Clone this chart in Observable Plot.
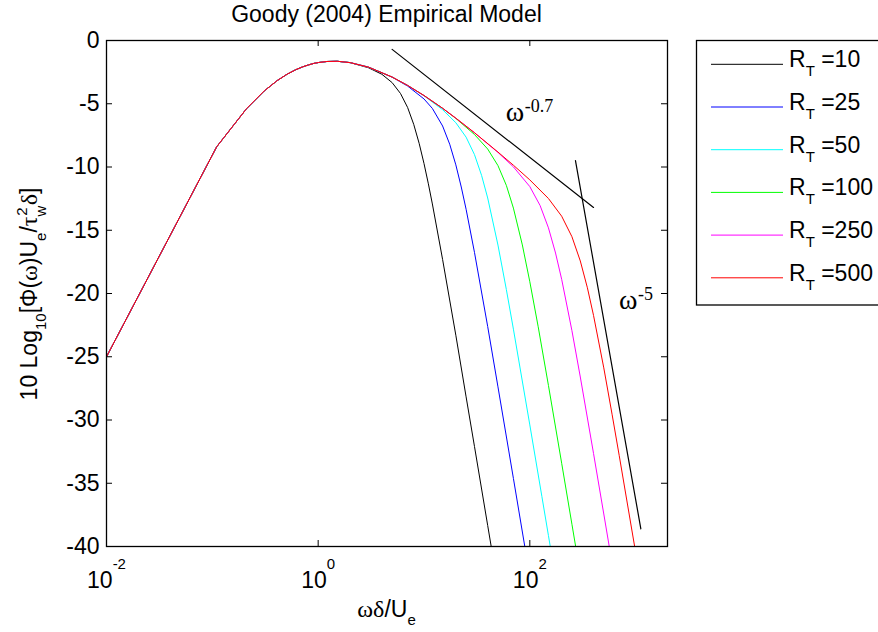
<!DOCTYPE html>
<html><head><meta charset="utf-8">
<script src="https://cdn.jsdelivr.net/npm/d3@7"></script>
<script src="https://cdn.jsdelivr.net/npm/@observablehq/plot@0.6"></script>
<style>body{margin:0;background:#fff;} #chart{position:relative;width:878px;height:632px;overflow:hidden;}</style>
</head><body><div id="chart"></div>
<script>
// shared low-frequency part of every curve
const commonX = [0.01, 0.11, 0.21, 0.31, 0.41, 0.51, 0.61, 0.71, 0.81, 0.91, 1.01, 1.21, 1.51, 2.01];
const commonY = [-25.0, -8.4, -5.4, -3.98, -3.17, -2.66, -2.32, -2.09, -1.93, -1.81, -1.74, -1.66, -1.64, -1.75];
// per-series tails
const rt10X = [3, 4, 5, 6, 7, 8, 9, 10, 11, 12, 15, 20, 25, 30, 40, 45];
const rt10Y = [-2.16, -2.67, -3.33, -4.19, -5.29, -6.63, -8.13, -9.72, -11.33, -12.92, -17.32, -23.30, -28.17, -32.09, -38.34, -40.9];
const rt25X = [3, 5, 7, 10, 12, 15, 17.5, 20, 22.5, 25, 30, 40, 50, 70, 90, 100];
const rt25Y = [-2.11, -2.90, -3.60, -4.62, -5.37, -6.76, -8.20, -9.83, -11.58, -13.34, -16.75, -22.61, -27.38, -34.62, -40.08, -42.37];
const rt50X = [3, 5, 7, 10, 15, 20, 25, 30, 35, 40, 50, 60, 70, 100, 130, 150, 170];
const rt50Y = [-2.11, -2.89, -3.55, -4.37, -5.47, -6.50, -7.64, -9.02, -10.66, -12.45, -16.17, -19.68, -22.82, -30.39, -36.04, -39.14, -41.86];
const rt100X = [3, 5, 7, 10, 15, 20, 30, 40, 50, 60, 70, 85, 100, 120, 150, 200, 250, 300];
const rt100Y = [-2.11, -2.89, -3.55, -4.35, -5.36, -6.16, -7.43, -8.58, -9.89, -11.45, -13.25, -16.16, -19.07, -22.63, -27.27, -33.42, -38.24, -42.19];
const rt250X = [3, 5, 7, 10, 15, 20, 30, 50, 70, 100, 125, 150, 175, 200, 250, 300, 400, 500, 600];
const rt250Y = [-2.11, -2.89, -3.55, -4.35, -5.36, -6.14, -7.29, -8.85, -9.99, -11.55, -13.04, -14.81, -16.80, -18.88, -22.94, -26.60, -32.64, -37.43, -41.37];
const rt500X = [3, 5, 7, 10, 15, 20, 30, 50, 70, 100, 150, 200, 250, 300, 350, 400, 500, 600, 700, 1000, 1200];
const rt500Y = [-2.11, -2.89, -3.55, -4.35, -5.36, -6.14, -7.29, -8.82, -9.86, -11.02, -12.49, -13.89, -15.51, -17.43, -19.55, -21.73, -25.88, -29.59, -32.82, -40.47, -44.4];

const seriesLabels = ["10", "25", "50", "100", "250", "500"];
const seriesColors = ["#000000", "#0000ff", "#00ffff", "#00ff00", "#ff00ff", "#ff0000"];
const seriesX = [rt10X, rt25X, rt50X, rt100X, rt250X, rt500X];
const seriesY = [rt10Y, rt25Y, rt50Y, rt100Y, rt250Y, rt500Y];

const xTicks = [0.01, 1, 100];
const yTicks = [-40, -35, -30, -25, -20, -15, -10, -5, 0];

// reference slope lines and their labels
const slope07X = [5, 400], slope07Y = [-0.7, -13.2];
const slope5X = [270, 1120], slope5Y = [-9.5, -38.6];
const annotBase = ["ω", "ω"], annotExp = ["-0.7", "-5"];
const annotX = [59.3, 697], annotY = [-5.69, -20.55];

const titleText = "Goody (2004) Empirical Model";

const rows = [];
seriesLabels.forEach((lab, i) => {
  const xs = commonX.concat(seriesX[i]);
  const ys = commonY.concat(seriesY[i]);
  xs.forEach((x, j) => rows.push({series: lab, x, y: ys[j]}));
});
const s07 = slope07X.map((x, i) => ({x, y: slope07Y[i]}));
const s5 = slope5X.map((x, i) => ({x, y: slope5Y[i]}));
const annots = annotBase.map((t, i) => ({t, e: annotExp[i], x: annotX[i], y: annotY[i]}));

const SANS = "'Liberation Sans', Arial, sans-serif";
const SERIF = "'Liberation Serif', 'Times New Roman', serif";
const W = 878, H = 632, ML = 106, MR = 211, MT = 40, MB = 86;
const frameW = W - ML - MR, frameH = H - MT - MB, TICK = 6;

const svgNode = Plot.plot({
  width: W, height: H,
  marginLeft: ML, marginRight: MR, marginTop: MT, marginBottom: MB,
  style: {fontFamily: SANS, fontSize: "23px", background: "white", color: "black"},
  x: {type: "log", domain: [0.01, 2000]},
  y: {domain: [-40, 0]},
  color: {domain: seriesLabels, range: seriesColors},
  marks: [
    Plot.line(rows, {x: "x", y: "y", z: "series", stroke: "series", strokeWidth: 1, clip: true}),
    Plot.line(s07, {x: "x", y: "y", stroke: "black", strokeWidth: 1.2}),
    Plot.line(s5, {x: "x", y: "y", stroke: "black", strokeWidth: 1.2}),
    Plot.text(annots, {x: "x", y: "y", text: "t", textAnchor: "start", fontFamily: SERIF, fontSize: 28, fill: "black"}),
    Plot.text(annots, {x: "x", y: "y", text: "e", textAnchor: "start", fontFamily: SERIF, fontSize: 18, dx: 19, dy: -6, fill: "black"}),
    Plot.tickX(xTicks, {x: d => d, insetTop: frameH - TICK, stroke: "black", strokeWidth: 1}),
    Plot.tickX(xTicks, {x: d => d, insetBottom: frameH - TICK, stroke: "black", strokeWidth: 1}),
    Plot.tickY(yTicks, {y: d => d, insetRight: frameW - TICK, stroke: "black", strokeWidth: 1}),
    Plot.tickY(yTicks, {y: d => d, insetLeft: frameW - TICK, stroke: "black", strokeWidth: 1}),
    Plot.axisY({ticks: yTicks, tickSize: 0, tickPadding: 7, tickFormat: d => String(d), fontSize: 23, label: null}),
    Plot.axisX({ticks: xTicks, tickSize: 0, tickPadding: 25, tickFormat: d => String(Math.round(Math.log10(d))), fontSize: 23, label: null}),
    Plot.frame({stroke: "black", strokeWidth: 1.3})
  ]
});
document.getElementById("chart").appendChild(svgNode);
const svg = d3.select(svgNode);

// x tick labels as 10^n
svg.selectAll('g[aria-label="x-axis tick label"] text').each(function() {
  const e = this.textContent;
  const s = d3.select(this);
  s.text("10");
  s.append("tspan").attr("dy", -19).attr("font-size", 15).text(e);
});

// title
svg.append("text").attr("x", 386.5).attr("y", 22).attr("text-anchor", "middle")
  .attr("font-family", SANS).attr("font-size", 23).attr("fill", "black").text(titleText);

// x label
const xl = svg.append("text").attr("x", 386.5).attr("y", 617).attr("text-anchor", "middle")
  .attr("font-family", SANS).attr("font-size", 23).attr("fill", "black");
xl.append("tspan").attr("font-family", SERIF).attr("font-size", 24).text("ωδ");
xl.append("tspan").text("/U");
xl.append("tspan").attr("dy", 8).attr("font-size", 15).text("e");

// y label
const yl = svg.append("g").attr("transform", "translate(37,294) rotate(-90)")
  .append("text").attr("text-anchor", "middle").attr("font-family", SANS).attr("font-size", 23).attr("fill", "black");
yl.append("tspan").text("10 Log");
yl.append("tspan").attr("dy", 9).attr("font-size", 15).text("10");
yl.append("tspan").attr("dy", -9).text("[Φ(");
yl.append("tspan").attr("font-family", SERIF).attr("font-size", 24).text("ω");
yl.append("tspan").text(")U");
yl.append("tspan").attr("dy", 9).attr("font-size", 15).text("e");
yl.append("tspan").attr("dy", -9).text("/");
yl.append("tspan").attr("font-family", SERIF).attr("font-size", 24).text("τ");
yl.append("tspan").attr("dy", 9).attr("font-size", 15).text("w");
yl.append("tspan").attr("dy", -19).attr("dx", -10).attr("font-size", 15).text("2");
yl.append("tspan").attr("dy", 10).attr("dx", 2).attr("font-family", SERIF).attr("font-size", 24).text("δ");
yl.append("tspan").text("]");

// legend
const lg = svg.append("g").attr("text-anchor", "start");
lg.append("rect").attr("x", 696.5).attr("y", 40.5).attr("width", 240).attr("height", 264.5)
  .attr("fill", "white").attr("stroke", "black").attr("stroke-width", 1.3);
seriesLabels.forEach((lab, i) => {
  const y = 64.3 + i * 42.7;
  lg.append("line").attr("x1", 711).attr("x2", 783).attr("y1", y).attr("y2", y)
    .attr("stroke", seriesColors[i]).attr("stroke-width", 1);
  const t = lg.append("text").attr("x", 789).attr("y", y + 3).attr("text-anchor", "start")
    .attr("font-family", SANS).attr("font-size", 23).attr("fill", "black");
  t.append("tspan").text("R");
  t.append("tspan").attr("dy", 9).attr("font-size", 15).text("T");
  t.append("tspan").attr("dy", -9).text(" =" + lab);
});
</script>
</body></html>
